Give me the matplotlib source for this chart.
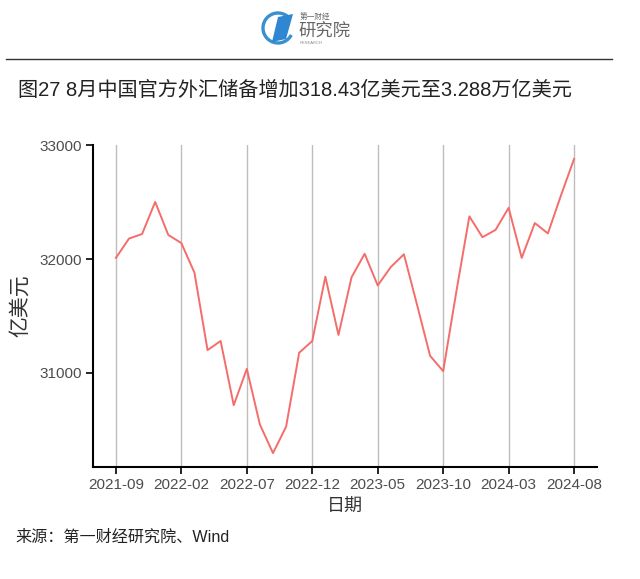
import matplotlib
matplotlib.use("Agg")
import matplotlib.pyplot as plt
from matplotlib.patches import Arc, Polygon
from matplotlib.lines import Line2D

plt.rcParams['font.family'] = ['Liberation Sans', 'Noto Sans CJK SC', 'DejaVu Sans']

months = ["2021-09", "2021-10", "2021-11", "2021-12", "2022-01", "2022-02", "2022-03",
          "2022-04", "2022-05", "2022-06", "2022-07", "2022-08", "2022-09", "2022-10",
          "2022-11", "2022-12", "2023-01", "2023-02", "2023-03", "2023-04", "2023-05",
          "2023-06", "2023-07", "2023-08", "2023-09", "2023-10", "2023-11", "2023-12",
          "2024-01", "2024-02", "2024-03", "2024-04", "2024-05", "2024-06", "2024-07",
          "2024-08"]
reserves = [32010, 32180, 32220, 32502, 32212, 32140, 31880, 31200, 31280, 30716,
            31035, 30546, 30295, 30527, 31177, 31280, 31845, 31333, 31840, 32046,
            31768, 31930, 32042, 31600, 31150, 31015, 31710, 32375, 32192, 32256,
            32450, 32010, 32316, 32225, 32560, 32880]
tick_labels = ["2021-09", "2022-02", "2022-07", "2022-12", "2023-05", "2023-10",
               "2024-03", "2024-08"]
y_ticks = [31000, 32000, 33000]

title = "图27 8月中国官方外汇储备增加318.43亿美元至3.288万亿美元"
source = "来源：第一财经研究院、Wind"

W, H = 640, 579
fig = plt.figure(figsize=(W / 100, H / 100), dpi=100)

# header: logo and rule
fig.add_artist(Arc((278 / W, 1 - 28 / H), 30 / W, 30 / H, theta1=40, theta2=330,
                   color="#3a8fd0", lw=2.4, transform=fig.transFigure))
fig.add_artist(Polygon([(272 / W, 1 - 42 / H), (278 / W, 1 - 17 / H),
                        (293 / W, 1 - 14 / H), (286 / W, 1 - 39 / H)],
                       closed=True, facecolor="#2f86d1", edgecolor="none",
                       transform=fig.transFigure))
fig.text(300 / W, 1 - 17 / H, "第一财经", fontsize=5.5, color="#666666",
         family=['Noto Sans CJK SC'], ha="left", va="center")
fig.text(298 / W, 1 - 31 / H, "研究院", fontsize=12.5, color="#666666",
         family=['Noto Sans CJK SC'], ha="left", va="center")
fig.text(300 / W, 1 - 43 / H, "RESEARCH", fontsize=3, color="#888888",
         ha="left", va="center")
fig.add_artist(Line2D([6 / W, 612 / W], [1 - 59 / H, 1 - 59 / H], color="#333333",
                      lw=1.0, transform=fig.transFigure))

fig.text(18 / W, 1 - 90 / H, title, fontsize=14.5, color="#222222",
         ha="left", va="center")
fig.text(15 / W, 1 - 537 / H, source, fontsize=11.6, color="#222222",
         ha="left", va="center")

ax = fig.add_axes([93 / W, 1 - 467 / H, (597 - 93) / W, (467 - 145) / H])
x = list(range(len(months)))
ax.plot(x, reserves, color="#F46D6A", lw=1.4, zorder=3)

tick_pos = [months.index(t) for t in tick_labels]
ax.set_xticks(tick_pos)
ax.set_xticklabels(tick_labels)
ax.set_yticks(y_ticks)
ax.set_xlim(-1.75, 36.75)
ax.set_ylim(30173, 33002)
ax.grid(axis="x", color="#bdbdbd", lw=1.0)
ax.set_axisbelow(True)
for s in ["top", "right"]:
    ax.spines[s].set_visible(False)
for s in ["left", "bottom"]:
    ax.spines[s].set_linewidth(1.5)
    ax.spines[s].set_color("black")
ax.tick_params(axis="both", length=5, width=1.2, color="black",
               labelsize=11, labelcolor="#4d4d4d", pad=3)
ax.set_xlabel("日期", fontsize=13, color="#333333", labelpad=4,
              family=['Noto Sans CJK SC'])
ax.set_ylabel("亿美元", fontsize=15, color="#333333", labelpad=6,
              family=['Noto Sans CJK SC'])

fig.savefig("out.png", dpi=100)
